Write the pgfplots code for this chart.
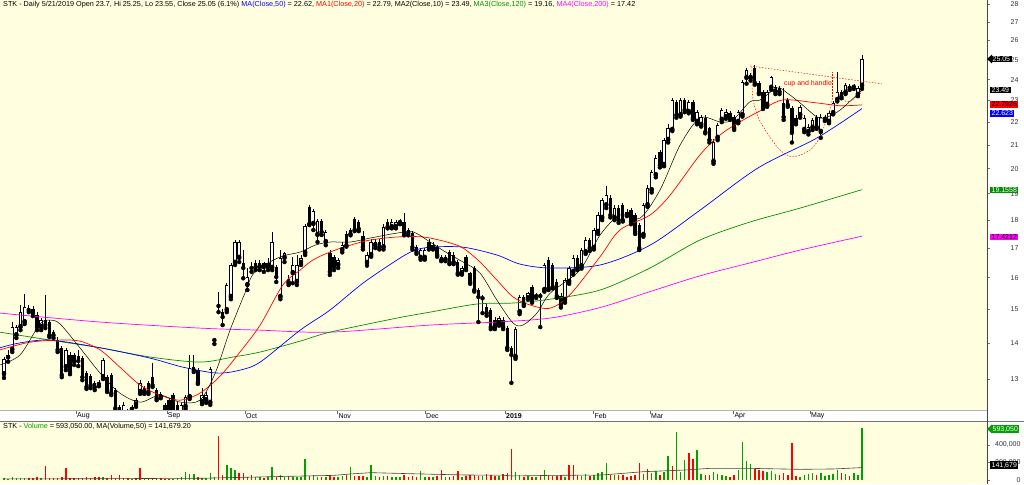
\documentclass[border=0pt]{standalone}
\usepackage{pgfplots}
\pgfplotsset{compat=1.18}
\usepackage{pgfplotstable}
\usepackage{fontspec}
\setmainfont{Liberation Sans}

\definecolor{bgy}{RGB}{255,255,224}
\definecolor{volg}{RGB}{0,160,0}
\definecolor{ma120}{RGB}{0,145,0}
\definecolor{mag}{RGB}{255,0,255}
\definecolor{axgray}{RGB}{70,70,70}

\newcommand{\sm}{\fontsize{7}{8}\selectfont}

% daily bars: open high low close volume up(1)/down(0) volume colour
\pgfplotstableread{
o h l c v u
13.13 13.59 13.03 13.55 20000 1
13.59 13.80 13.47 13.66 15000 1
13.80 14.61 13.74 14.46 30000 1
14.22 14.52 14.14 14.46 18000 1
14.46 15.13 14.37 14.91 22000 1
14.61 15.47 14.55 15.07 25000 1
15.03 15.13 14.91 14.97 20000 0
15.00 15.10 14.79 14.88 28000 0
14.82 14.91 14.37 14.46 30000 0
14.46 14.73 14.37 14.67 25000 1
14.67 15.44 14.43 14.52 160000 0
14.61 14.67 14.17 14.22 25000 0
14.31 14.37 14.14 14.22 20000 0
14.08 14.17 13.74 13.80 28000 0
13.86 13.91 13.05 13.11 30000 0
13.32 13.86 13.24 13.80 140000 0
13.66 13.74 13.13 13.19 25000 0
13.66 13.71 13.38 13.47 20000 0
13.63 13.80 13.35 13.49 22000 0
13.57 13.63 12.97 13.05 28000 0
13.16 13.21 12.74 12.79 35000 0
13.08 13.13 12.76 12.84 22000 0
12.89 12.95 12.71 12.79 30000 0
12.89 12.97 12.81 12.87 40000 0
13.05 13.57 13.00 13.52 35000 1
13.05 13.11 12.66 12.71 20000 0
13.11 13.16 12.58 12.63 55000 0
12.71 12.76 12.20 12.25 25000 0
12.28 12.33 12.01 12.08 55000 0
12.15 12.40 12.06 12.33 18000 0
12.15 12.23 12.11 12.18 20000 0
12.23 12.33 12.20 12.28 15000 1
12.33 12.50 12.28 12.45 18000 0
12.66 12.97 12.61 12.89 133000 0
12.66 12.81 12.61 12.76 15000 1
12.89 12.95 12.61 12.66 20000 0
13.05 13.43 12.79 12.84 15000 0
12.71 12.76 12.45 12.50 25000 0
12.55 12.66 12.50 12.61 18000 0
12.33 12.38 12.15 12.20 15000 0
12.45 12.50 12.08 12.13 12000 0
12.58 12.63 12.11 12.15 15000 1
12.33 12.40 11.96 12.01 20000 1
12.15 12.38 12.11 12.33 30000 1
12.28 12.58 12.23 12.53 95000 1
12.53 13.66 12.48 13.30 70000 1
13.32 13.66 13.19 13.24 70000 1
13.24 13.30 12.87 12.92 35000 0
12.40 12.76 12.35 12.58 25000 1
12.45 12.66 12.38 12.58 20000 1
12.38 13.32 12.33 13.27 80000 1
14.08 14.09 13.97 14.09 30000 1
15.10 15.53 14.91 15.10 500000 0
14.91 15.00 14.52 14.76 60000 0
14.97 15.82 14.91 15.76 170000 1
15.38 16.49 15.31 16.42 133000 1
16.49 17.28 16.42 17.21 114000 1
16.66 17.28 16.52 17.21 84000 0
16.49 16.93 15.98 16.32 80000 0
15.76 16.32 15.60 16.02 40000 1
16.32 16.52 16.19 16.35 55000 0
16.49 16.59 16.25 16.35 30000 1
16.35 16.59 16.25 16.49 35000 1
16.49 16.52 16.19 16.35 25000 0
16.35 16.66 16.25 16.49 40000 1
16.32 17.57 16.25 17.21 152000 1
16.35 16.42 15.86 16.02 35000 0
15.38 16.93 15.31 16.66 60000 1
16.66 16.86 16.52 16.83 30000 1
15.82 16.09 15.76 15.95 45000 0
16.15 16.69 15.82 16.42 35000 1
15.86 16.76 15.76 16.42 30000 1
16.49 16.76 16.42 16.66 40000 1
16.83 17.86 16.76 17.79 240000 1
18.48 18.56 17.82 17.86 50000 0
17.86 18.41 17.64 18.33 60000 1
17.46 18.04 17.21 17.96 35000 1
17.96 18.04 17.46 17.57 40000 0
17.21 17.64 17.10 17.57 30000 1
16.83 16.93 16.09 16.19 55000 0
16.69 16.76 16.25 16.35 40000 0
16.42 16.66 16.32 16.59 30000 1
16.93 17.20 16.85 17.10 45000 1
17.50 17.60 17.05 17.10 60000 0
17.64 17.70 17.45 17.50 145000 1
18.04 18.10 17.60 17.64 50000 0
17.93 18.00 17.60 17.68 45000 0
17.42 17.60 16.95 17.03 50000 0
16.49 16.85 16.40 16.76 40000 1
16.76 17.30 16.70 17.21 171000 1
17.10 17.30 17.00 17.21 45000 1
17.21 17.30 16.95 17.03 35000 0
17.03 17.85 16.95 17.75 50000 1
17.93 18.05 17.70 17.75 45000 0
17.75 18.05 17.70 17.93 40000 1
17.75 18.00 17.70 17.93 35000 1
17.93 18.05 17.85 17.96 30000 1
17.93 18.26 17.45 17.53 55000 0
17.64 17.70 17.45 17.53 40000 0
17.53 17.60 16.95 17.03 50000 0
17.03 17.10 16.80 16.86 40000 0
16.66 17.00 16.60 16.93 100000 1
16.66 17.00 16.60 16.93 40000 1
17.21 17.30 16.95 17.03 35000 0
17.00 17.20 16.95 17.10 30000 1
17.03 17.10 16.70 16.76 45000 0
16.69 16.75 16.55 16.59 115000 0
16.59 16.75 16.55 16.69 35000 1
16.86 16.95 16.45 16.49 40000 0
16.76 16.85 16.45 16.52 45000 0
16.52 16.60 16.10 16.15 105000 0
16.15 16.40 16.10 16.32 40000 1
16.69 16.75 16.25 16.32 45000 0
16.15 16.20 15.80 15.86 55000 0
16.32 16.40 15.55 15.60 60000 0
15.60 15.65 14.61 15.38 50000 0
15.34 15.44 14.88 15.36 45000 1
15.07 15.15 14.80 14.88 70000 0
14.97 15.05 14.40 14.46 60000 0
14.67 14.75 14.40 14.46 50000 0
14.58 14.80 14.50 14.73 45000 1
14.67 14.75 14.40 14.46 65000 0
14.43 14.50 13.80 13.86 80000 0
13.86 13.90 12.90 13.66 360000 0
13.60 14.45 13.55 14.40 90000 1
14.91 15.45 14.85 15.38 60000 1
15.38 15.45 15.10 15.16 40000 0
15.34 15.55 15.30 15.50 45000 1
15.70 15.75 15.20 15.28 35000 0
15.41 15.50 15.35 15.44 40000 1
15.44 15.50 14.46 15.41 50000 0
15.60 16.50 15.55 16.42 114000 1
16.59 16.70 15.60 15.66 60000 0
16.42 16.50 15.65 15.70 50000 0
15.86 15.95 15.35 15.41 45000 0
15.41 15.50 15.05 15.13 55000 0
15.28 16.00 15.20 15.92 40000 1
15.86 16.40 15.80 16.32 171000 0
16.19 16.75 16.10 16.66 171000 0
16.66 16.75 16.25 16.32 60000 0
16.38 17.00 16.30 16.93 50000 1
16.86 17.40 16.80 17.28 70000 1
17.28 17.35 16.90 17.00 45000 0
17.00 17.70 16.95 17.64 60000 1
17.57 18.30 17.50 18.19 80000 1
18.08 18.85 18.00 18.75 90000 1
18.56 19.30 18.45 18.95 190000 1
18.83 18.95 18.10 18.19 60000 0
18.08 18.55 18.00 18.45 60000 1
18.45 18.55 17.90 18.00 55000 0
18.56 18.65 17.95 18.00 60000 0
18.30 18.40 18.15 18.22 40000 0
18.37 18.45 17.85 17.93 50000 0
18.19 18.25 17.50 17.57 60000 0
17.82 17.90 16.93 17.00 200000 0
17.46 18.65 17.40 18.56 70000 1
18.56 19.35 18.50 19.22 130000 0
19.14 19.95 19.05 19.86 80000 1
19.74 20.55 19.65 20.44 100000 1
20.70 20.80 20.05 20.15 60000 0
20.15 21.30 20.10 21.21 90000 1
21.21 21.90 21.10 21.74 274000 1
21.65 23.10 21.60 23.02 160000 0
22.93 23.00 22.20 22.32 552000 1
22.32 23.10 22.25 23.02 90000 1
23.02 23.10 22.45 22.55 230000 1
22.46 23.00 22.40 22.93 305000 0
22.93 23.00 22.10 22.19 240000 0
22.01 22.55 21.90 22.46 343000 1
21.87 22.30 21.80 22.23 70000 1
22.19 22.30 21.50 21.56 60000 0
21.74 21.80 21.10 21.21 55000 0
20.28 21.25 20.20 21.12 90000 1
21.30 21.95 21.20 21.87 70000 1
22.10 22.65 22.00 22.55 60000 1
22.23 22.60 22.15 22.46 50000 1
22.41 22.50 22.10 22.19 40000 0
22.23 22.30 21.65 21.74 60000 0
22.01 22.55 21.95 22.46 120000 1
22.32 23.98 22.25 23.88 438000 1
24.08 24.60 23.80 24.48 217000 1
24.08 24.35 23.95 24.23 183000 1
24.58 24.73 23.75 23.84 126000 0
23.84 23.95 23.30 23.36 110000 0
23.41 23.50 22.60 22.69 100000 0
22.79 23.50 22.70 23.41 90000 1
23.60 24.20 23.50 24.13 100000 1
23.41 23.75 23.30 23.65 70000 1
23.60 23.70 23.30 23.41 60000 0
22.88 23.60 22.10 22.23 75000 0
23.02 23.10 22.70 22.79 60000 0
22.65 22.75 21.10 21.52 427000 0
22.19 22.30 21.90 22.01 50000 0
22.32 22.80 22.20 22.69 40000 1
21.65 22.30 21.55 22.19 60000 1
21.56 21.90 21.45 21.78 70000 1
21.74 22.20 21.65 22.10 80000 1
22.23 22.30 21.70 21.78 60000 0
21.56 22.35 21.30 22.23 75000 1
22.15 22.30 22.05 22.20 50000 1
22.01 22.50 21.95 22.41 60000 1
22.41 22.95 22.35 22.88 70000 1
23.02 24.40 22.95 23.41 110000 1
23.41 23.50 23.10 23.17 80000 0
23.36 23.85 23.30 23.74 70000 1
23.69 23.80 23.50 23.60 50000 0
23.65 23.80 23.55 23.69 80000 1
23.26 23.70 23.20 23.60 60000 1
23.70 25.25 23.55 25.05 593050 1
}\ohlc

\pgfplotsset{
  candle/.style={only marks, mark=none, forget plot,
    error bars/y dir=plus, error bars/y explicit, error bars/error mark=none},
  every tick label/.append style={font=\sm, text=black!80},
}

\begin{document}
\begin{tikzpicture}
\useasboundingbox (0,0) rectangle (1024pt,-484pt);
\fill[white] (0,0) rectangle (1024pt,-484pt);
\fill[bgy] (0,0) rectangle (987pt,-410.5pt);
\fill[bgy] (0,-421pt) rectangle (987pt,-484pt);

\begin{axis}[
  at={(0pt,0pt)}, anchor=north west, scale only axis,
  width=987pt, height=410.5pt,
  xmin=-0.97, xmax=238.3,
  ymode=log, ymin=12.19, ymax=28.25,
  axis x line*=bottom, axis y line*=right,
  x axis line style={draw=black!30}, y axis line style={draw=none},
  tick align=outside, major tick length=3pt,
  tick style={black!55, line width=0.5pt},
  yminorticks=false,
  ytick={13,14,15,16,17,18,19,20,21,22,23,24,25,26,27,28},
  yticklabels={13,14,15,16,17,18,19,20,21,22,23,24,25,26,27,28},
  yticklabel style={anchor=east, xshift=32pt},
  xtick=\empty,
  clip=true,
]
% wicks
\addplot[candle, error bars/error bar style={draw=black, line width=0.55pt}]
  table[x expr=\coordindex, y=l, y error expr=\thisrow{h}-\thisrow{l}] {\ohlc};
% falling bodies (filled)
\addplot[candle, restrict expr to domain={\thisrow{o}-\thisrow{c}}{0.000001:100},
  error bars/error bar style={draw=black, line width=3.3pt}]
  table[x expr=\coordindex, y=c, y error expr=\thisrow{o}-\thisrow{c}] {\ohlc};
% rising bodies (outline + white inside)
\addplot[candle, restrict expr to domain={\thisrow{c}-\thisrow{o}}{0:100},
  error bars/error bar style={draw=black, line width=3.3pt}]
  table[x expr=\coordindex, y=o, y error expr=\thisrow{c}-\thisrow{o}] {\ohlc};
\addplot[candle, restrict expr to domain={\thisrow{c}/\thisrow{o}}{1.006:10},
  error bars/error bar style={draw=white, line width=1.8pt}]
  table[x expr=\coordindex, y expr=\thisrow{o}*1.0022,
        y error expr=\thisrow{c}*0.9978-\thisrow{o}*1.0022] {\ohlc};

% MA(200)
\addplot[mag, line width=0.7pt, smooth] coordinates {
(-1,14.88) (23.3,14.61) (47.5,14.43) (62,14.37) (79,14.31) (103.3,14.52)
(119.5,14.61) (132.4,14.73) (144.5,15.05) (156.6,15.55) (168.7,16.06)
(180.8,16.49) (193,16.93) (208,17.42)};
% MA(120)
\addplot[ma120, line width=0.7pt, smooth] coordinates {
(-1,14.31) (11.2,14.08) (23.3,13.86) (35.4,13.60) (47.5,13.46) (55.5,13.60)
(62.1,13.74) (71.8,14.05) (79,14.31) (95.3,14.73) (103.3,14.91) (114.7,15.16)
(123.4,15.19) (132.4,15.31) (144.5,15.60) (156.6,16.32) (168.7,17.28)
(180.8,17.93) (193,18.45) (208,19.16)};
% MA(50)
\addplot[blue, line width=0.7pt, smooth] coordinates {
(-1,13.86) (3.9,14.0) (11.2,14.08) (23.3,13.86) (35.4,13.57) (43.4,13.32)
(51.6,13.16) (57.2,13.24) (62.1,13.46) (71.8,14.37) (79,14.97) (87,15.82)
(95.3,16.59) (99.2,16.90) (103.3,17.03) (111.3,17.03) (119.5,16.76)
(125.1,16.45) (132.4,16.32) (144.5,16.42) (156.6,17.10) (168.7,18.37)
(182.8,20.03) (197.1,21.30) (208,22.62)};
% MA(20)
\addplot[red, line width=0.7pt, smooth] coordinates {
(-1,13.80) (6.3,14.02) (13.6,14.08) (18.4,14.05) (23.3,13.80) (28.1,13.32)
(33,12.84) (37.8,12.58) (42.7,12.45) (47.5,12.63) (52.4,13.08) (57.2,13.74)
(62.1,14.52) (67.6,15.76) (71.8,16.25) (74.9,16.59) (79,16.86) (83.9,17.10)
(88.7,17.28) (95.3,17.39) (101.6,17.39) (107.4,17.21) (111.3,17.0)
(115.4,16.52) (119.5,15.92) (123.4,15.38) (127.5,15.13) (132.4,15.03)
(137.2,15.45) (144.5,16.70) (149.3,17.64) (156.6,18.19) (161.5,18.95)
(168.7,20.57) (173.6,21.43) (178.4,22.01) (183.3,22.51) (188.8,23.02)
(197.1,22.88) (202.7,22.75) (208,22.79)};
% MA(10)
\addplot[black, line width=0.5pt, smooth] coordinates {
(-1,13.38) (3.9,13.66) (8.7,14.55) (11.2,14.67) (13.6,14.55) (18.4,13.86)
(23.3,13.16) (28.1,12.63) (33,12.40) (37.8,12.58) (42.7,12.40) (47.5,12.45)
(51.2,13.16) (54.8,14.37) (58.4,15.50) (60.8,16.19) (66.9,16.69) (71.8,16.86)
(75.4,17.10) (79,17.21) (83.9,17.21) (88.7,17.35) (95.3,17.53) (99.2,17.57)
(103.3,17.21) (107.4,16.83) (111.3,16.52) (115.4,16.15) (119.5,15.28)
(123.4,14.58) (125.8,14.52) (129.2,14.88) (132.4,15.50) (139.6,16.25)
(144.5,17.46) (149.3,18.19) (154.2,18.08) (159,19.14) (163.9,20.99)
(168.7,22.19) (173.6,22.01) (176.7,22.10) (180.8,22.93) (183.3,23.02)
(187.4,23.60) (189.8,23.36) (193,22.88) (197.1,22.23) (199.5,22.23)
(202.7,22.55) (208,23.49)};

% cup and handle sketch
\addplot[red, line width=0.5pt, dash pattern=on 1.5pt off 1.5pt, forget plot]
  coordinates {(180.85,24.68) (212.8,23.79)};
\addplot[red, line width=0.5pt, dash pattern=on 1.5pt off 1.5pt, smooth, forget plot]
  coordinates {(181.3,24.63) (181.5,23.17) (182.8,22.23) (185.0,21.52) (188.1,20.78)
  (191.3,20.49) (195.4,20.78) (197.8,21.35) (200.2,22.55) (200.9,23.17)};
\addplot[red, line width=0.5pt, dash pattern=on 1.5pt off 1.5pt, forget plot]
  coordinates {(200.9,23.17) (200.9,24.38)};
\addplot[red, line width=0.5pt, dash pattern=on 1.5pt off 1.5pt, smooth, forget plot]
  coordinates {(201.9,23.41) (204.4,22.93) (207.5,23.3) (208.5,23.64)};
\node[red, font=\sm, inner sep=0pt] at (194.9,23.79) {cup and handle};
\end{axis}

\begin{axis}[
  at={(0pt,-421pt)}, anchor=north west, scale only axis,
  width=987pt, height=63pt,
  xmin=-0.97, xmax=238.3,
  ymin=-45714, ymax=674286,
  axis x line=none, axis y line*=right,
  y axis line style={draw=none},
  tick align=outside, major tick length=3pt,
  tick style={black!55, line width=0.5pt},
  scaled y ticks=false,
  ytick={0,200000,400000},
  yticklabels={0,{200,000},{400,000}},
  yticklabel style={anchor=east, xshift=34pt},
  clip=false,
]
\addplot[ycomb, draw=volg, line width=1.5pt, forget plot,
  restrict expr to domain={\thisrow{u}}{0.5:1.5}]
  table[x expr=\coordindex, y=v] {\ohlc};
\addplot[ycomb, draw=red, line width=1.5pt, forget plot,
  restrict expr to domain={\thisrow{u}}{-0.5:0.5}]
  table[x expr=\coordindex, y=v] {\ohlc};
% MA(Volume,50)
\addplot[black!75, line width=0.6pt] coordinates {
(0,12000) (24,15000) (48,20000) (65,38000) (80,53000) (84,69000) (89,84000)
(101,69000) (112,57000) (121,55000) (123,46000) (133,53000) (145,57000)
(155,95000) (165,114000) (171,133000) (181,133000) (193,122000) (201,126000)
(208,141680)};
\end{axis}

% date strip and axis frame
\fill[white] (0,-411pt) rectangle (987pt,-420.5pt);
\draw[black!30] (0,-410.5pt) -- (987pt,-410.5pt);
\draw[black!55] (0,-421pt) -- (1024pt,-421pt);
\draw[axgray, line width=0.8pt] (987pt,0) -- (987pt,-484pt);

% month labels in the strip
\begin{scope}[font=\sm, inner sep=0pt]
\foreach \xx/\lab in {76/Aug,166.7/Sep,245/Oct,337.3/Nov,425/Dec,593.3/Feb,650/Mar,733.3/Apr,810/May}{
  \draw[black!60] (\xx pt,-411pt) -- (\xx pt,-414pt);
  \node[anchor=west] at (\xx pt+1pt,-415.7pt) {\lab};
}
\draw[black!60] (505pt,-411pt) -- (505pt,-414pt);
\node[anchor=west] at (506pt,-415.7pt) {\textbf{2019}};
\end{scope}

% value boxes on the right
\begin{scope}[font=\sm, inner xsep=1.4pt, inner ysep=0.8pt]
\fill[black] (987pt,-59pt) -- (992pt,-54.5pt) -- (992pt,-63.5pt) -- cycle;
\node[fill=black, text=white, anchor=west] at (991pt,-59pt) {25.05};
\node[fill=black, text=white, anchor=west] at (990pt,-90pt) {23.49};
\node[fill=red, text=black, anchor=west] at (990pt,-104.5pt) {22.7926};
\node[fill=blue, text=white, anchor=west] at (990pt,-113.5pt) {22.623};
\node[fill=ma120, text=white, anchor=west] at (990pt,-190pt) {19.1558};
\node[fill=mag, text=black, anchor=west] at (990pt,-237pt) {17.4212};
\fill[volg] (987pt,-429pt) -- (992pt,-424.5pt) -- (992pt,-433.5pt) -- cycle;
\node[fill=volg, text=white, anchor=west] at (991pt,-429pt) {593,050};
\node[fill=black, text=white, anchor=west] at (990pt,-465pt) {141,679};
\end{scope}

% titles
\node[anchor=north west, inner sep=0pt, font=\fontsize{7.25}{8}\selectfont] at (3pt,-1.5pt)
  {STK - Daily 5/21/2019 Open 23.7, Hi 25.25, Lo 23.55, Close 25.05 (6.1\%) \textcolor{blue}{MA(Close,50)} = 22.62, \textcolor{red}{MA1(Close,20)} = 22.79, MA2(Close,10) = 23.49, \textcolor{ma120}{MA3(Close,120)} = 19.16, \textcolor{mag}{MA4(Close,200)} = 17.42};
\node[anchor=north west, inner sep=0pt, font=\fontsize{7.25}{8}\selectfont] at (3pt,-423pt)
  {STK - \textcolor{volg}{Volume} = 593,050.00, MA(Volume,50) = 141,679.20};
\end{tikzpicture}
\end{document}
